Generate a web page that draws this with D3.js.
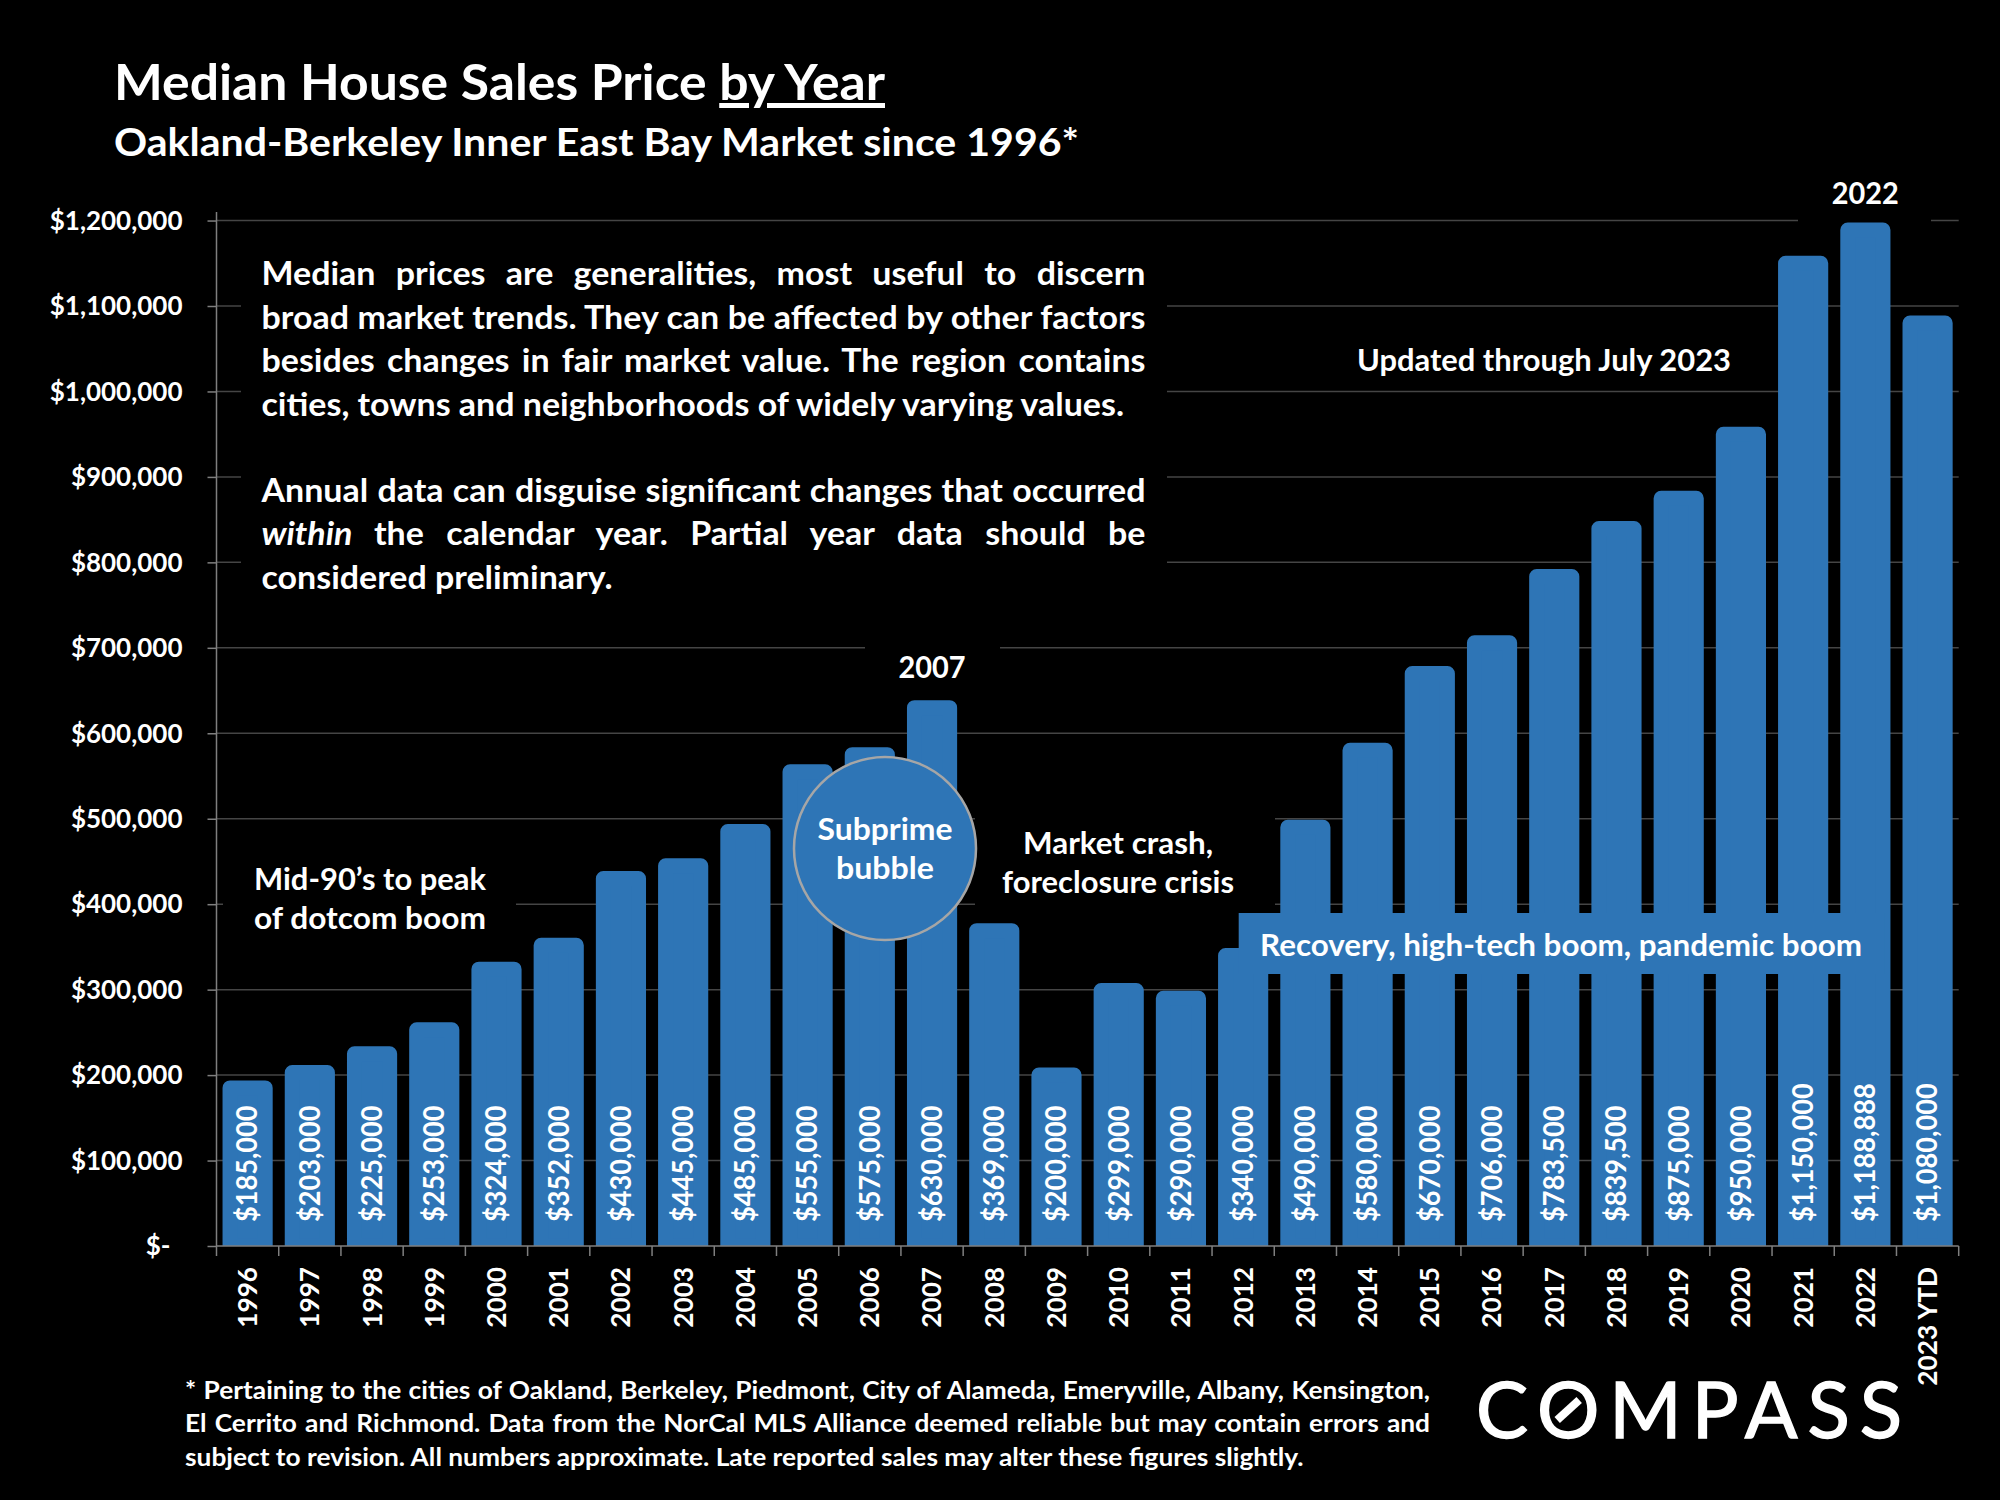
<![CDATA[<!DOCTYPE html>
<html><head><meta charset="utf-8">
<script src="https://cdn.jsdelivr.net/npm/d3@7"></script>
<style>
html,body{margin:0;padding:0;background:#000;}
svg{display:block;}
text{font-family:Lato,sans-serif;font-weight:700;fill:#fff;}
</style></head><body>
<svg id="c" width="2000" height="1500"></svg>
<script>
const categories = ["1996","1997","1998","1999","2000","2001","2002","2003","2004","2005","2006","2007","2008","2009","2010","2011","2012","2013","2014","2015","2016","2017","2018","2019","2020","2021","2022","2023 YTD"];
const medianPrice = [185000,203000,225000,253000,324000,352000,430000,445000,485000,555000,575000,630000,369000,200000,299000,290000,340000,490000,580000,670000,706000,783500,839500,875000,950000,1150000,1188888,1080000];
const yTicks = [0,100000,200000,300000,400000,500000,600000,700000,800000,900000,1000000,1100000,1200000];
const titleText = "Median House Sales Price ";
const titleUnderlined = "by Year";
const subtitleText = "Oakland-Berkeley Inner East Bay Market since 1996*";
const notesLines = [
 "Median prices are generalities, most useful to discern",
 "broad market trends. They can be affected by other factors",
 "besides changes in fair market value. The region contains",
 "cities, towns and neighborhoods of widely varying values."
];
const notesLines2 = [
 "Annual data can disguise significant changes that occurred",
 "the calendar year. Partial year data should be",
 "considered preliminary."
];
const footLines = [
 "* Pertaining to the cities of Oakland, Berkeley, Piedmont, City of Alameda, Emeryville, Albany, Kensington,",
 "El Cerrito and Richmond. Data from the NorCal MLS Alliance deemed reliable but may contain errors and",
 "subject to revision. All numbers approximate. Late reported sales may alter these figures slightly."
];

const BLUE = "#2E75B6", GRID = "#454545", AXIS = "#7f7f7f";
const svg = d3.select("#c");
const L = 216.5, R = 1958.7, B = 1246, T = 212;

const x = d3.scaleBand().domain(categories).range([L, R]).paddingInner(0.435).paddingOuter(0.2175);
const y = d3.scaleLinear().domain([0, 1210000]).range([B, T]);
const money = d3.format("$,");
const cx = c => x(c) + x.bandwidth()/2;

svg.append("rect").attr("width",2000).attr("height",1500).attr("fill","#000");

// gridlines
svg.append("g").selectAll("line").data(yTicks.slice(1)).join("line")
  .attr("x1",L).attr("x2",R).attr("y1",d=>y(d)).attr("y2",d=>y(d))
  .attr("stroke",GRID).attr("stroke-width",1.5);

// black text boxes that mask the gridlines
const masks = [[241,240,926,360],[223,845,293,100],[975,810,300,105],[865,635,135,85],[1798,170,133,60]];
svg.append("g").selectAll("rect").data(masks).join("rect")
  .attr("x",d=>d[0]).attr("y",d=>d[1]).attr("width",d=>d[2]).attr("height",d=>d[3]).attr("fill","#000");

// bars: thick round-joined outline, cut off at the baseline
svg.append("clipPath").attr("id","plot").append("rect").attr("x",L).attr("y",0).attr("width",R-L).attr("height",B);
svg.append("g").attr("clip-path","url(#plot)").selectAll("rect").data(medianPrice).join("rect")
  .attr("x",(d,i)=>x(categories[i])).attr("width",x.bandwidth())
  .attr("y",d=>y(d)).attr("height",d=>y(0)-y(d))
  .attr("fill",BLUE).attr("stroke",BLUE).attr("stroke-width",15).attr("stroke-linejoin","round");

// axes
const gy = svg.append("g").attr("transform",`translate(${L},0)`)
  .call(d3.axisLeft(y).tickValues(yTicks).tickSize(9).tickPadding(25).tickFormat(d=>d===0?"$-":money(d)));
const gx = svg.append("g").attr("transform",`translate(0,${B})`)
  .call(d3.axisBottom(x).tickSize(0).tickFormat(d=>d));
[gy,gx].forEach(g=>{g.selectAll("path,line").attr("stroke",AXIS).attr("stroke-width",1.5);});
gy.select(".domain").attr("d",`M0,${T}V${B}`);
gx.select(".domain").attr("d",`M${L},0H${R}`);
gy.selectAll("text").attr("font-size",27.5).attr("fill","#fff").style("font-family","Lato").style("font-weight",700)
  .each(function(){ this.setAttribute("textLength", this.getComputedTextLength()*0.945); this.setAttribute("lengthAdjust","spacingAndGlyphs"); });
gy.selectAll(".tick").filter(d=>d===0).select("text").attr("dx",-12);
gx.selectAll(".tick text").attr("font-size",27).attr("fill","#fff").style("font-family","Lato").style("font-weight",700)
  .attr("text-anchor","end").attr("x",0).attr("y",0).attr("dy","0.35em").attr("transform","translate(0,21) rotate(-90)")
  .each(function(){ this.setAttribute("textLength", this.getComputedTextLength()*0.97); this.setAttribute("lengthAdjust","spacingAndGlyphs"); });
// category boundary ticks
gx.append("g").selectAll("line").data(d3.range(categories.length+1)).join("line")
  .attr("x1",i=>L+i*x.step()).attr("x2",i=>L+i*x.step()).attr("y1",0).attr("y2",10)
  .attr("stroke",AXIS).attr("stroke-width",1.5);

// value labels in bars
svg.append("g").selectAll("text").data(medianPrice).join("text")
  .attr("transform",(d,i)=>`translate(${cx(categories[i])},1222) rotate(-90)`)
  .attr("dy","0.35em").attr("font-size",28).text(d=>money(d))
  .each(function(){ this.setAttribute("textLength", this.getComputedTextLength()*0.97); this.setAttribute("lengthAdjust","spacingAndGlyphs"); });

// helpers
function line(parent,px,py,str,size,width,anchor){
  const t = parent.append("text").attr("x",px).attr("y",py).attr("font-size",size)
    .attr("text-anchor",anchor||"start").text(str);
  if(width) t.attr("textLength",width).attr("lengthAdjust","spacingAndGlyphs");
  return t;
}
// horizontally condensed text block: the last line sets the condensation, the others are justified
function widthAt(str,size){
  const t = svg.append("text").attr("font-size",size).text(str);
  const w = t.node().getComputedTextLength(); t.remove(); return w;
}
function condensed(px,py,size,sx){
  return svg.append("text").attr("transform",`translate(${px},${py}) scale(${sx},1)`).attr("font-size",size);
}
function justifyC(t,w,sx){
  const n = t.text().trim().split(/\s+/).length-1;
  const nat = t.node().getComputedTextLength();
  t.attr("word-spacing",(w/sx-nat)/n);
}

// title
const t1 = svg.append("text").attr("x",114).attr("y",100).attr("font-size",50).attr("textLength",771).attr("lengthAdjust","spacingAndGlyphs");
t1.append("tspan").text(titleText);
t1.append("tspan").attr("text-decoration","underline").text(titleUnderlined);
line(svg,114,156,subtitleText,39,965);

// notes
const NW = 884, NX = 261.5, NS = 33;
const nsx = 863/widthAt(notesLines[3],NS);
const nb = [285,328.5,372,415.5];
notesLines.forEach((s,i)=>{
  const t = condensed(NX,nb[i],NS,nsx).text(s);
  if(i<3) justifyC(t,NW,nsx);
});
justifyC(condensed(NX,501.5,NS,nsx).text(notesLines2[0]),NW,nsx);
const tw = condensed(NX,545,NS,nsx);
tw.append("tspan").attr("font-style","italic").text("within ");
tw.append("tspan").text(notesLines2[1]);
justifyC(tw,NW,nsx);
condensed(NX,588.5,NS,nsx).text(notesLines2[2]);

// annotations
const AS = 31;
line(svg,cx("2007"),678,"2007",AS,67,"middle");
line(svg,cx("2022"),204,"2022",AS,67,"middle");
line(svg,370,890,"Mid-90’s to peak",AS,232,"middle");
line(svg,370,929,"of dotcom boom",AS,232,"middle");
line(svg,1118,854,"Market crash,",AS,190,"middle");
line(svg,1118,893,"foreclosure crisis",AS,232,"middle");
line(svg,1357,371,"Updated through July 2023",AS,374);

svg.append("ellipse").attr("cx",885).attr("cy",848.5).attr("rx",91).attr("ry",91.5)
  .attr("fill",BLUE).attr("stroke","#a6a6a6").attr("stroke-width",2.5);
line(svg,885,840,"Subprime",AS,135,"middle");
line(svg,885,879,"bubble",AS,98,"middle");

svg.append("rect").attr("x",1238.7).attr("y",913).attr("width",646).attr("height",61).attr("fill",BLUE);
line(svg,1260,955.5,"Recovery, high-tech boom, pandemic boom",AS,602);

// footnote
const FS = 25.5, fsx = 1119/widthAt(footLines[2],FS);
footLines.forEach((s,i)=>{
  const t = condensed(185,[1398.5,1432,1465.5][i],FS,fsx).text(s);
  if(i<2) justifyC(t,1245,fsx);
});

// logo
const logo = svg.append("text").attr("x",1476).attr("y",1438).attr("font-size",78)
  .style("font-weight",400).attr("textLength",426).attr("lengthAdjust","spacing")
  .attr("stroke","#fff").attr("stroke-width",1.4).text("COMPASS");
const ob = logo.node().getExtentOfChar(1);
const ox = ob.x+ob.width/2, oy = 1410;
svg.append("line").attr("x1",ox-11).attr("x2",ox+11).attr("y1",oy+10).attr("y2",oy-10)
  .attr("stroke","#fff").attr("stroke-width",8);
</script></body></html>]]>
